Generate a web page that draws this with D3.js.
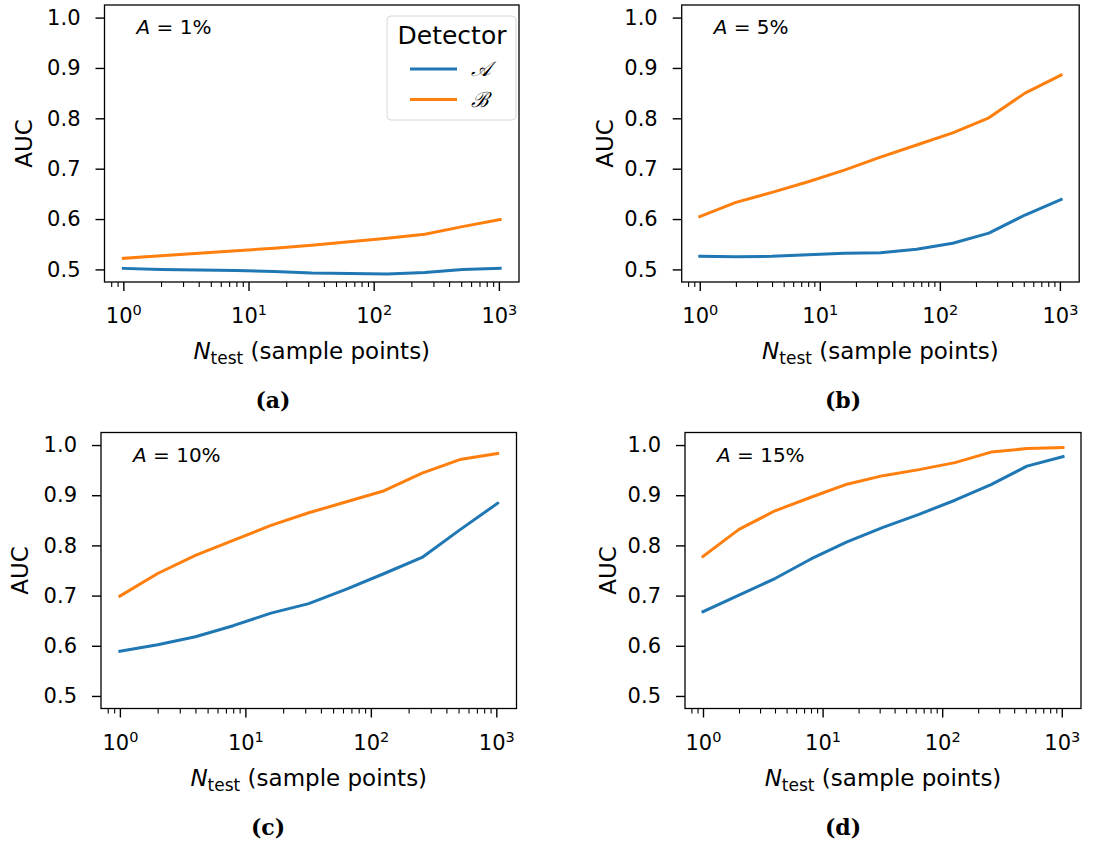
<!DOCTYPE html>
<html>
<head>
<meta charset="utf-8">
<script src="https://cdn.jsdelivr.net/npm/d3@7"></script>
<style>
  body { margin: 0; background: #fff; }
  svg { display: block; }
  text { font-family: "DejaVu Sans", sans-serif; fill: #000; }
</style>
</head>
<body>
<svg id="chart" width="1115" height="846"></svg>
<script>
// ---------------- DATA ----------------
const nTest = [1, 2, 4, 8, 16, 32, 64, 128, 256, 512, 1024];
const panelLabels = ["(a)", "(b)", "(c)", "(d)"];
const anomalyRates = ["1%", "5%", "10%", "15%"];
const seriesNames = ["𝒜", "ℬ"];
const yTicks = [0.5, 0.6, 0.7, 0.8, 0.9, 1.0];
const xTicks = [1, 10, 100, 1000];
const xTickExponents = ["0", "1", "2", "3"];

const aucA_1  = [0.502, 0.500, 0.499, 0.498, 0.496, 0.493, 0.492, 0.491, 0.494, 0.500, 0.502];
const aucB_1  = [0.522, 0.527, 0.532, 0.537, 0.542, 0.548, 0.555, 0.562, 0.570, 0.585, 0.599];
const aucA_5  = [0.526, 0.525, 0.526, 0.529, 0.532, 0.533, 0.540, 0.552, 0.572, 0.608, 0.639];
const aucB_5  = [0.605, 0.633, 0.653, 0.674, 0.697, 0.723, 0.747, 0.771, 0.801, 0.850, 0.886];
const aucA_10 = [0.589, 0.602, 0.618, 0.640, 0.665, 0.684, 0.713, 0.744, 0.776, 0.831, 0.884];
const aucB_10 = [0.699, 0.744, 0.780, 0.810, 0.840, 0.865, 0.887, 0.909, 0.944, 0.971, 0.983];
const aucA_15 = [0.668, 0.701, 0.734, 0.773, 0.807, 0.836, 0.862, 0.890, 0.921, 0.958, 0.977];
const aucB_15 = [0.778, 0.832, 0.869, 0.896, 0.922, 0.939, 0.951, 0.965, 0.986, 0.993, 0.995];

const panelSeries = [
  [aucA_1, aucB_1],
  [aucA_5, aucB_5],
  [aucA_10, aucB_10],
  [aucA_15, aucB_15]
];
const colors = ["#1f77b4", "#ff7f0e"];

// ---------------- LAYOUT ----------------
const panels = [
  {x: 104.5, y: 5,     w: 414.5, h: 277, labelX: 273, yLab: -72.5},
  {x: 681.7, y: 5,     w: 397.5, h: 277, labelX: 843, yLab: -69},
  {x: 101,   y: 432.5, w: 415.5, h: 276, labelX: 268, yLab: -73},
  {x: 685,   y: 432.5, w: 396,   h: 276, labelX: 843, yLab: -69}
];

const svg = d3.select("#chart");
const xDomainLog = [-0.1505, 3.1608];

panels.forEach((p, i) => {
  const g = svg.append("g").attr("transform", `translate(${p.x},${p.y})`);
  const x = d3.scaleLog().domain([Math.pow(10, xDomainLog[0]), Math.pow(10, xDomainLog[1])]).range([0, p.w]);
  const y = d3.scaleLinear().domain([0.475, 1.025]).range([p.h, 0]);

  // minor x ticks
  const minor = [];
  for (let e = -1; e <= 3; e++) for (let m = 2; m <= 9; m++) {
    const v = m * Math.pow(10, e);
    if (v >= x.domain()[0] && v <= x.domain()[1]) minor.push(v);
  }
  const minorAxis = g.append("g").attr("transform", `translate(0,${p.h})`)
    .call(d3.axisBottom(x).tickValues(minor).tickSize(5).tickFormat(""));
  minorAxis.select(".domain").remove();
  minorAxis.selectAll("line").attr("stroke-width", 1.1);

  // major x ticks
  const xAxis = g.append("g").attr("transform", `translate(0,${p.h})`)
    .call(d3.axisBottom(x).tickValues(xTicks).tickSize(9).tickPadding(10).tickFormat(() => ""));
  xAxis.select(".domain").remove();
  xAxis.selectAll("line").attr("stroke-width", 1.4);
  xAxis.selectAll(".tick text").remove();
  xAxis.selectAll(".tick").each(function(d, j) {
    const t = d3.select(this).append("text")
      .attr("y", 41).attr("text-anchor", "middle")
      .style("font-size", "21px");
    t.append("tspan").text("10");
    t.append("tspan").attr("dy", -8).style("font-size", "14.5px").text(xTickExponents[j]);
  });

  // y axis
  const yAxis = g.append("g")
    .call(d3.axisLeft(y).tickValues(yTicks).tickSize(9).tickPadding(15).tickFormat(d3.format(".1f")));
  yAxis.select(".domain").remove();
  yAxis.selectAll("line").attr("stroke-width", 1.4);
  yAxis.selectAll("text").style("font-size", "21px").attr("font-family", "DejaVu Sans");

  // lines
  const line = d3.line().x((d, k) => x(nTest[k])).y(d => y(d));
  panelSeries[i].forEach((s, si) => {
    g.append("path").datum(s)
      .attr("d", line)
      .attr("fill", "none")
      .attr("stroke", colors[si])
      .attr("stroke-width", 3)
      .attr("stroke-linejoin", "round")
      .attr("stroke-linecap", "square");
  });

  // frame
  g.append("rect").attr("width", p.w).attr("height", p.h)
    .attr("fill", "none").attr("stroke", "#000").attr("stroke-width", 1.3);

  // annotation
  const ann = g.append("text").attr("x", 32).attr("y", 29).style("font-size", "20px");
  ann.append("tspan").attr("font-style", "italic").text("A");
  ann.append("tspan").text(" = " + anomalyRates[i]);

  // y label
  g.append("text")
    .attr("transform", `translate(${p.yLab},${p.h / 2}) rotate(-90)`)
    .attr("text-anchor", "middle")
    .style("font-size", "23px")
    .text("AUC");

  // x label
  const xl = g.append("text").attr("x", p.w / 2).attr("y", p.h + 77)
    .attr("text-anchor", "middle").style("font-size", "23px");
  xl.append("tspan").attr("font-style", "italic").text("N");
  xl.append("tspan").attr("dy", 5).style("font-size", "17px").text("test");
  xl.append("tspan").attr("dy", -5).text(" (sample points)");

  // panel label
  svg.append("text")
    .attr("x", p.labelX).attr("y", p.y + p.h + 126)
    .attr("text-anchor", "middle")
    .style("font-family", "'DejaVu Serif', serif")
    .style("font-weight", "bold")
    .style("font-size", "22px")
    .text(panelLabels[i]);

  // legend in first panel
  if (i === 0) {
    const lg = svg.append("g");
    lg.append("rect").attr("x", 387).attr("y", 16).attr("width", 129).attr("height", 104)
      .attr("rx", 4).attr("fill", "#fff").attr("fill-opacity", 0.8)
      .attr("stroke", "#d6d6d6").attr("stroke-width", 1);
    lg.append("text").attr("x", 452).attr("y", 44).attr("text-anchor", "middle")
      .style("font-size", "25px").text("Detector");
    seriesNames.forEach((nm, si) => {
      const yy = 69 + si * 30.5;
      lg.append("line").attr("x1", 410).attr("x2", 457).attr("y1", yy).attr("y2", yy)
        .attr("stroke", colors[si]).attr("stroke-width", 3);
      lg.append("text").attr("x", 471).attr("y", yy + 7)
        .style("font-family", "'DejaVu Serif', serif").style("font-style", "italic")
        .style("font-size", "21px").text(nm);
    });
  }
});
</script>
</body>
</html>
